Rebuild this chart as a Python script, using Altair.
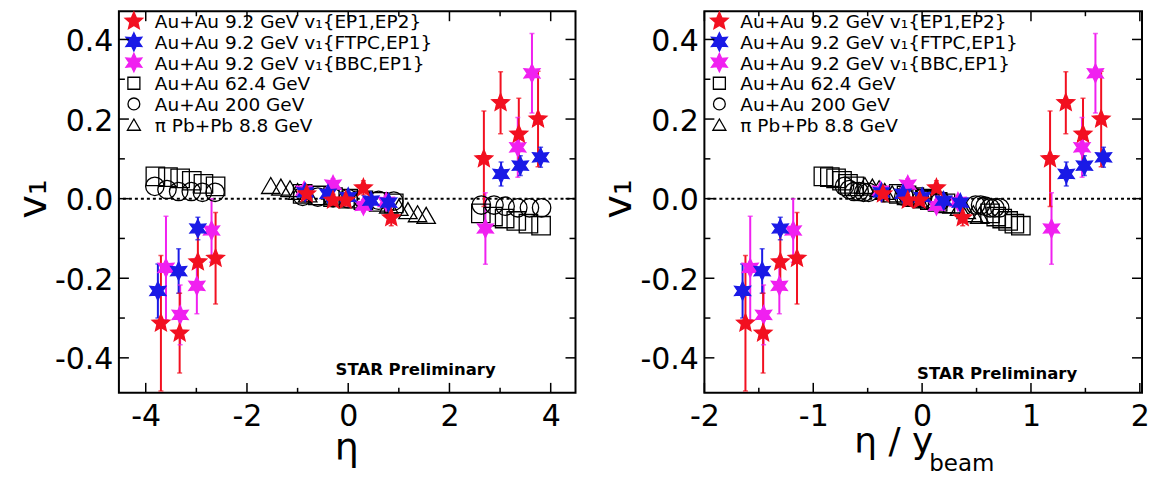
import math
import pandas as pd
import altair as alt

FONT = "DejaVu Sans"
RED, BLUE, MAG = "#f21020", "#1a1ae6", "#f020f0"

SERIES = [
    "Au+Au 9.2 GeV v₁{EP1,EP2}",
    "Au+Au 9.2 GeV v₁{FTPC,EP1}",
    "Au+Au 9.2 GeV v₁{BBC,EP1}",
    "Au+Au 62.4 GeV",
    "Au+Au 200 GeV",
    "π Pb+Pb 8.8 GeV",
]
YBEAM = [2.28, 2.28, 2.28, 4.20, 5.36, 2.91]

# Au+Au 9.2 GeV v1{EP1,EP2}
ep12_eta = [-3.70, -3.33, -2.97, -2.62, -0.82, -0.30, -0.05, 0.30, 0.85, 2.68, 3.01, 3.37, 3.75]
ep12_v1 = [-0.313, -0.338, -0.159, -0.150, 0.012, -0.004, -0.004, 0.027, -0.048, 0.100, 0.241, 0.162, 0.200]
ep12_err = [0.170, 0.100, 0.070, 0.115, 0.020, 0.015, 0.015, 0.018, 0.020, 0.120, 0.078, 0.090, 0.120]

# Au+Au 9.2 GeV v1{FTPC,EP1}
ftpc_eta = [-3.76, -3.35, -2.97, -0.85, -0.40, 0.00, 0.45, 0.80, 3.02, 3.40, 3.80]
ftpc_v1 = [-0.232, -0.182, -0.075, 0.016, 0.012, 0.004, -0.005, -0.010, 0.062, 0.083, 0.104]
ftpc_err = [0.068, 0.056, 0.028, 0.010, 0.010, 0.010, 0.010, 0.010, 0.030, 0.025, 0.025]

# Au+Au 9.2 GeV v1{BBC,EP1}
bbc_eta = [-3.60, -3.32, -2.99, -2.70, -0.87, -0.30, 0.30, 0.75, 2.71, 3.35, 3.63]
bbc_v1 = [-0.174, -0.292, -0.219, -0.080, 0.020, 0.035, -0.018, -0.008, -0.075, 0.129, 0.315]
bbc_err = [0.130, 0.075, 0.070, 0.080, 0.015, 0.015, 0.015, 0.015, 0.090, 0.075, 0.100]

# Au+Au 62.4 GeV
g62_eta = [-3.81, -3.56, -3.32, -3.09, -2.86, -2.62, -0.90, -0.60, -0.30, 0.00, 0.30, 0.60, 0.90,
           2.62, 2.86, 3.09, 3.32, 3.56, 3.81]
g62_v1 = [0.056, 0.054, 0.051, 0.045, 0.037, 0.031, 0.012, 0.008, 0.004, 0.000, -0.004, -0.008, -0.012,
          -0.037, -0.045, -0.050, -0.056, -0.063, -0.068]

# Au+Au 200 GeV
g200_eta = [-3.82, -3.58, -3.35, -3.10, -2.88, -2.63, -0.90, -0.60, -0.30, 0.00, 0.30, 0.60, 0.90,
            2.63, 2.88, 3.10, 3.35, 3.58, 3.82]
g200_v1 = [0.031, 0.023, 0.018, 0.018, 0.016, 0.016, 0.006, 0.004, 0.002, 0.000, -0.002, -0.004, -0.006,
           -0.016, -0.016, -0.019, -0.023, -0.023, -0.023]

# pi Pb+Pb 8.8 GeV
pb_eta = [-1.53, -1.33, -1.15, -1.00, -0.80, 0.80, 1.00, 1.18, 1.37, 1.54]
pb_v1 = [0.033, 0.029, 0.025, 0.018, 0.012, -0.016, -0.022, -0.030, -0.038, -0.042]

X1_MAJOR = [-4, -2, 0, 2, 4]
X1_MINOR = [-3, -1, 1, 3]
X2_MAJOR = [-2, -1, 0, 1, 2]
X2_MINOR = [-1.5, -0.5, 0.5, 1.5]
Y_MAJOR = [-0.4, -0.2, 0.0, 0.2, 0.4]
Y_MINOR = [-0.3, -0.1, 0.1, 0.3]

# ---------------------------------------------------------------- tables
all_sets = [
    (ep12_eta, ep12_v1, ep12_err),
    (ftpc_eta, ftpc_v1, ftpc_err),
    (bbc_eta, bbc_v1, bbc_err),
    (g62_eta, g62_v1, None),
    (g200_eta, g200_v1, None),
    (pb_eta, pb_v1, None),
]
draw_order = [3, 4, 5, 2, 1, 0]
rows = []
for i in draw_order:
    eta, v1, err = all_sets[i]
    for k in range(len(eta)):
        rows.append({
            "series": SERIES[i],
            "eta": eta[k],
            "eta_yb": eta[k] / YBEAM[i],
            "v1": v1[k],
            "lo": None if err is None else v1[k] - err[k],
            "hi": None if err is None else v1[k] + err[k],
        })
df = pd.DataFrame(rows)
df_err = df.dropna(subset=["lo"]).copy()


def star_path(n, r_in, rot=-90.0):
    pts = []
    for k in range(2 * n):
        a = math.radians(rot + k * 180.0 / n)
        r = 1.0 if k % 2 == 0 else r_in
        pts.append(f"{r * math.cos(a):.3f},{r * math.sin(a):.3f}")
    return "M" + "L".join(pts) + "Z"


STAR5 = star_path(5, 0.45)
STAR6 = star_path(6, 0.52)
SHAPES = [STAR5, STAR6, STAR6, "square", "circle", "triangle-up"]
STROKES = [RED, BLUE, MAG, "black", "black", "black"]
FILLS = [RED, BLUE, MAG, "transparent", "transparent", "transparent"]
SIZES = [340, 340, 340, 144, 140, 170]

Y_DOM = [-0.488, 0.471]
H = 382


def panel(xcol, xdom, W, xmaj, xmin, star_xy, titles):
    xs = alt.Scale(domain=xdom, nice=False, zero=False)
    ys = alt.Scale(domain=Y_DOM, nice=False, zero=False)
    xaxis = alt.Axis(values=xmaj, ticks=False, domain=False, grid=False, labelFont=FONT,
                     labelFontSize=30, labelColor="black", labelPadding=9, title=None,
                     labelFlush=False, labelOverlap=False,
                     labelExpr="(datum.value < 0 ? '-' : '') + format(abs(datum.value), 'd')")
    yaxis = alt.Axis(values=Y_MAJOR, ticks=False, domain=False, grid=False, labelFont=FONT,
                     labelFontSize=30, labelColor="black", labelPadding=6, title=None,
                     labelOffset=2, labelFlush=False, labelOverlap=False,
                     labelExpr="(datum.value < 0 ? '-' : '') + format(abs(datum.value), '.1f')")
    X = alt.X(f"{xcol}:Q", scale=xs, axis=xaxis)
    Y = alt.Y("v1:Q", scale=ys, axis=yaxis)
    col = alt.Color("series:N", scale=alt.Scale(domain=SERIES, range=STROKES), legend=None)
    fil = alt.Fill("series:N", scale=alt.Scale(domain=SERIES, range=FILLS), legend=None)
    shp = alt.Shape("series:N", scale=alt.Scale(domain=SERIES, range=SHAPES), legend=None)
    siz = alt.Size("series:N", scale=alt.Scale(domain=SERIES, range=SIZES), legend=None)

    layers = []
    zero = alt.Chart(pd.DataFrame({"v1": [0.0]})).mark_rule(
        color="black", strokeWidth=2, strokeDash=[3, 3]).encode(y=Y)
    layers.append(zero)

    bars = alt.Chart(df_err).mark_rule(strokeWidth=2, clip=True).encode(
        x=X, y=alt.Y("lo:Q", scale=ys, axis=yaxis), y2="hi:Q", color=col)
    caps_lo = alt.Chart(df_err).mark_tick(orient="horizontal", size=5, thickness=1.5, clip=True).encode(
        x=X, y=alt.Y("lo:Q", scale=ys, axis=yaxis), color=col)
    caps_hi = alt.Chart(df_err).mark_tick(orient="horizontal", size=5, thickness=1.5, clip=True).encode(
        x=X, y=alt.Y("hi:Q", scale=ys, axis=yaxis), color=col)
    layers += [bars, caps_lo, caps_hi]

    pts = alt.Chart(df).mark_point(filled=False, strokeWidth=1.3, opacity=1, clip=True).encode(
        x=X, y=Y, color=col, fill=fil, shape=shp, size=siz)
    layers.append(pts)

    # legend (drawn inside the frame, top-left)
    for i, name in enumerate(SERIES):
        ry = 10 + 20.7 * i
        ld = pd.DataFrame({"series": [name]})
        layers.append(alt.Chart(ld).mark_point(
            filled=False, strokeWidth=1.3, opacity=1, shape=SHAPES[i], size=SIZES[i],
            stroke=STROKES[i], fill=FILLS[i]).encode(x=alt.value(15), y=alt.value(ry)))
        layers.append(alt.Chart(ld).mark_text(
            font=FONT, fontSize=18.5, color="black", align="left", baseline="middle").encode(
            text="series:N", x=alt.value(36), y=alt.value(ry + 1)))

    # inward ticks on all four sides
    def ticks(vals, L):
        d = pd.DataFrame({"t": vals})
        tx = alt.X("t:Q", scale=xs, axis=xaxis)
        return [
            alt.Chart(d).mark_rule(color="black", strokeWidth=1.5).encode(
                x=tx, y=alt.value(H), y2=alt.value(H - L)),
            alt.Chart(d).mark_rule(color="black", strokeWidth=1.5).encode(
                x=tx, y=alt.value(0), y2=alt.value(L)),
        ]

    def yticks(vals, L):
        d = pd.DataFrame({"t": vals})
        ty = alt.Y("t:Q", scale=ys, axis=yaxis)
        return [
            alt.Chart(d).mark_rule(color="black", strokeWidth=1.5).encode(
                y=ty, x=alt.value(0), x2=alt.value(L)),
            alt.Chart(d).mark_rule(color="black", strokeWidth=1.5).encode(
                y=ty, x=alt.value(W), x2=alt.value(W - L)),
        ]

    layers += ticks(xmaj, 10) + ticks(xmin, 5) + yticks(Y_MAJOR, 10) + yticks(Y_MINOR, 6)

    star = alt.Chart(pd.DataFrame({"t": ["STAR Preliminary"]})).mark_text(
        font=FONT, fontSize=16.5, fontWeight="bold", color="black", baseline="middle", align="center"
    ).encode(text="t:N", x=alt.value(star_xy[0]), y=alt.value(star_xy[1]))
    layers.append(star)

    for (txt, tx, ty, fs, ang, al) in titles:
        layers.append(alt.Chart(pd.DataFrame({"t": [txt]})).mark_text(
            font=FONT, fontSize=fs, color="black", baseline="alphabetic", align=al, angle=ang
        ).encode(text="t:N", x=alt.value(tx), y=alt.value(ty)))

    return alt.layer(*layers).properties(width=W, height=H).resolve_scale(
        color="shared", fill="shared", shape="shared", size="shared")


left = panel("eta", [-4.53, 4.49], 457, X1_MAJOR, X1_MINOR, (297, 359),
             [("v₁", -73, 188, 40, 270, "center"),
              ("η", 228, 449, 38, 0, "center")])
right = panel("eta_yb", [-2.0, 2.02], 438, X2_MAJOR, X2_MINOR, (293, 363),
              [("v₁", -73, 188, 40, 270, "center"),
               ("η / y", 150, 442, 36, 0, "left"),
               ("beam", 225, 460, 23, 0, "left")])

chart = alt.hconcat(left, right, spacing=21).resolve_scale(
    x="independent", y="independent", color="independent", fill="independent",
    shape="independent", size="independent"
).properties(padding={"left": 5, "top": 0, "right": 0, "bottom": 0}).configure_view(
    stroke="black", strokeWidth=2)

chart.save("out.html", embed_options={"renderer": "svg", "actions": False})
